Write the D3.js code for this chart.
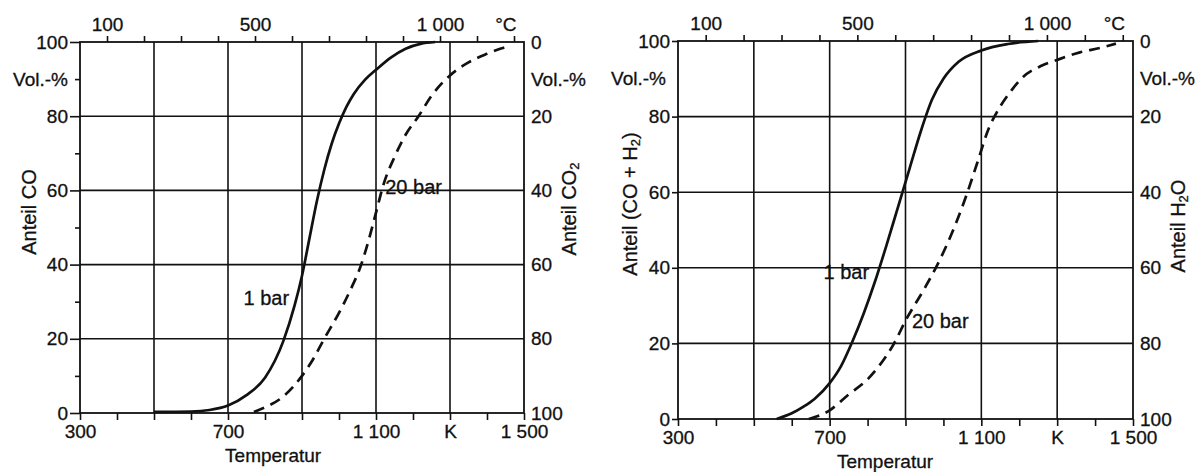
<!DOCTYPE html>
<html>
<head>
<meta charset="utf-8">
<script src="https://cdn.jsdelivr.net/npm/d3@7"></script>
<style>
  html, body { margin: 0; padding: 0; background: #fff; }
  svg { display: block; font-family: "Liberation Sans", Arial, sans-serif; }
  svg text { stroke: #111; stroke-width: 0.3px; }
</style>
</head>
<body>
<svg id="chart" width="1203" height="472"></svg>
<script>
// ---- Axis ticks and labels -------------------------------------------------
const kelvinTicks = d3.range(300, 1501, 100);          // small ticks every 100 K
const kelvinGridlines = [500, 700, 900, 1100, 1300];    // vertical grid every 200 K
const kelvinLabels = [[300, "300"], [700, "700"], [1100, "1 100"], [1300, "K"], [1500, "1 500"]];
const celsiusTicks = d3.range(100, 1201, 100);          // small ticks every 100 °C
const celsiusLabels = [[100, "100"], [500, "500"], [1000, "1 000"]];
const celsiusUnitAt = 1178;
const shareTicks = [0, 20, 40, 60, 80, 100];
const shareGridlines = [20, 40, 60, 80];
const shareMinorTicks = [10, 30, 50, 70, 90];

// ---- Equilibrium curves: [temperature in K, share in Vol.-%] ---------------
// Boudouard equilibrium  C + CO2 <=> 2 CO
const boudouard1bar = [
  [500, 0.3], [600, 0.4], [650, 0.8], [700, 2], [750, 4.8], [800, 9.5], [850, 19.5],
  [880, 29], [900, 37], [920, 47], [940, 57], [960, 65.5], [980, 72.5], [1000, 78],
  [1020, 82.5], [1040, 86], [1070, 89.8], [1100, 92.5], [1140, 95.8], [1180, 98.2],
  [1220, 99.5], [1260, 100]
];
const boudouard20bar = [
  [770, 0.3], [800, 1.5], [850, 4.5], [900, 10], [930, 14.5], [960, 20], [1000, 27],
  [1030, 33], [1060, 40], [1080, 46.5], [1100, 54], [1120, 61.5], [1150, 69],
  [1180, 75], [1215, 80], [1250, 85.5], [1300, 91], [1350, 94.5], [1400, 96.8], [1440, 98.3], [1465, 99]
];
// Heterogeneous water-gas reaction  C + H2O <=> CO + H2
const waterGas1bar = [
  [560, 0], [600, 1.5], [630, 3.2], [660, 5.3], [700, 9.5], [730, 14], [760, 20.5],
  [790, 28], [820, 36.5], [850, 46], [880, 56], [910, 66], [940, 76], [970, 84.5],
  [1000, 90], [1040, 94.5], [1100, 97.5], [1170, 99.2], [1250, 100]
];
const waterGas20bar = [
  [645, 0], [700, 2.3], [750, 6.5], [800, 10.5], [830, 14], [870, 20], [900, 26],
  [950, 34.5], [990, 42], [1030, 51], [1060, 59], [1090, 68], [1120, 77], [1140, 81],
  [1180, 87], [1210, 90.5], [1260, 93.5], [1300, 95], [1360, 97], [1415, 98.2], [1455, 99.3]
];

// ---- Panel layout ------------------------------------------------------------
const panels = [
  {
    left: 80, right: 524, top: 42, bottom: 413,
    majorTick: 10, minorTicks: true,
    curves: [boudouard1bar, boudouard20bar],
    curveLabels: [
      { text: "1 bar", k: 865, v: 31, anchor: "end" },
      { text: "20 bar", k: 1125, v: 61, anchor: "start" }
    ],
    leftTitle: { parts: [["Anteil CO", false]], x: 29, y: 212 },
    rightTitle: { parts: [["Anteil CO", false], ["2", true]], x: 569, y: 209 },
    xTitleK: 822
  },
  {
    left: 678, right: 1133, top: 41, bottom: 419,
    majorTick: 6, minorTicks: false,
    curves: [waterGas1bar, waterGas20bar],
    curveLabels: [
      { text: "1 bar", k: 804, v: 39, anchor: "end" },
      { text: "20 bar", k: 917, v: 26, anchor: "start" }
    ],
    leftTitle: { parts: [["Anteil (CO + H", false], ["2", true], [")", false]], x: 630, y: 204 },
    rightTitle: { parts: [["Anteil H", false], ["2", true], ["O", false]], x: 1178, y: 226 },
    xTitleK: 846
  }
];

const svg = d3.select("#chart");
const FONT = 19;
const TITLE_FONT = 20;
const INK = "#111";

function styleAxis(g) {
  g.attr("font-family", null).attr("font-size", FONT);
  g.selectAll("text").attr("fill", INK);
  g.selectAll("line").attr("stroke", INK).attr("stroke-width", 1.6);
  g.select(".domain").remove();
}

function addTitle(g, t) {
  const text = g.append("text")
    .attr("transform", `translate(${t.x},${t.y}) rotate(-90)`)
    .attr("text-anchor", "middle")
    .attr("dominant-baseline", "central")
    .attr("font-size", TITLE_FONT)
    .attr("fill", INK);
  let shifted = false;
  t.parts.forEach(([s, sub]) => {
    const ts = text.append("tspan").text(s);
    if (sub && !shifted) { ts.attr("dy", 5).attr("font-size", 13); shifted = true; }
    else if (!sub && shifted) { ts.attr("dy", -5); shifted = false; }
  });
}

panels.forEach(p => {
  const g = svg.append("g");
  const x = d3.scaleLinear().domain([300, 1500]).range([p.left, p.right]);
  const xC = d3.scaleLinear().domain([300 - 273, 1500 - 273]).range([p.left, p.right]);
  const y = d3.scaleLinear().domain([0, 100]).range([p.bottom, p.top]);
  const yR = d3.scaleLinear().domain([0, 100]).range([p.top, p.bottom]);

  // grid
  g.append("g").selectAll("line").data(kelvinGridlines).join("line")
    .attr("x1", d => x(d)).attr("x2", d => x(d))
    .attr("y1", p.top).attr("y2", p.bottom)
    .attr("stroke", INK).attr("stroke-width", 1.6);
  g.append("g").selectAll("line").data(shareGridlines).join("line")
    .attr("x1", p.left).attr("x2", p.right)
    .attr("y1", d => y(d)).attr("y2", d => y(d))
    .attr("stroke", INK).attr("stroke-width", 1.6);

  // frame
  g.append("rect")
    .attr("x", p.left).attr("y", p.top)
    .attr("width", p.right - p.left).attr("height", p.bottom - p.top)
    .attr("fill", "none").attr("stroke", INK).attr("stroke-width", 1.8);

  // bottom axis (K)
  const kLab = new Map(kelvinLabels);
  g.append("g").attr("transform", `translate(0,${p.bottom})`)
    .call(d3.axisBottom(x).tickValues(kelvinTicks).tickSize(7).tickPadding(5)
      .tickFormat(d => kLab.get(d) || ""))
    .call(styleAxis);

  // top axis (°C)
  const cLab = new Map(celsiusLabels);
  g.append("g").attr("transform", `translate(0,${p.top})`)
    .call(d3.axisTop(xC).tickValues(celsiusTicks).tickSize(6).tickPadding(5)
      .tickFormat(d => cLab.get(d) || ""))
    .call(styleAxis);
  g.append("text")
    .attr("x", xC(celsiusUnitAt)).attr("y", p.top - 11)
    .attr("text-anchor", "middle").attr("font-size", FONT).attr("fill", INK)
    .text("°C");

  // left axis
  g.append("g").attr("transform", `translate(${p.left},0)`)
    .call(d3.axisLeft(y).tickValues(shareTicks).tickSize(p.majorTick).tickPadding(2))
    .call(styleAxis);
  if (p.minorTicks) {
    g.append("g").attr("transform", `translate(${p.left},0)`)
      .call(d3.axisLeft(y).tickValues(shareMinorTicks).tickSize(5).tickFormat(""))
      .call(styleAxis);
  }
  g.append("text")
    .attr("x", p.left - 12).attr("y", y(90)).attr("dy", "0.35em")
    .attr("text-anchor", "end").attr("font-size", FONT).attr("fill", INK)
    .text("Vol.-%");

  // right axis (complementary share)
  g.append("g").attr("transform", `translate(${p.right},0)`)
    .call(d3.axisRight(yR).tickValues(shareTicks).tickSize(0).tickPadding(7))
    .call(styleAxis);
  g.append("text")
    .attr("x", p.right + 7).attr("y", yR(10)).attr("dy", "0.35em")
    .attr("text-anchor", "start").attr("font-size", FONT).attr("fill", INK)
    .text("Vol.-%");

  // axis titles
  addTitle(g, p.leftTitle);
  addTitle(g, p.rightTitle);
  g.append("text")
    .attr("x", x(p.xTitleK)).attr("y", p.bottom + 49)
    .attr("text-anchor", "middle").attr("font-size", FONT).attr("fill", INK)
    .text("Temperatur");

  // equilibrium curves
  const line = d3.line().x(d => x(d[0])).y(d => y(d[1])).curve(d3.curveMonotoneX);
  p.curves.forEach((data, i) => {
    g.append("path").datum(data)
      .attr("d", line)
      .attr("fill", "none")
      .attr("stroke", INK)
      .attr("stroke-width", 2.7)
      .attr("stroke-dasharray", i === 1 ? "11,7" : null);
  });

  // curve labels
  p.curveLabels.forEach(l => {
    g.append("text")
      .attr("x", x(l.k)).attr("y", y(l.v)).attr("dy", "0.35em")
      .attr("text-anchor", l.anchor).attr("font-size", TITLE_FONT).attr("fill", INK)
      .text(l.text);
  });
});
</script>
</body>
</html>
